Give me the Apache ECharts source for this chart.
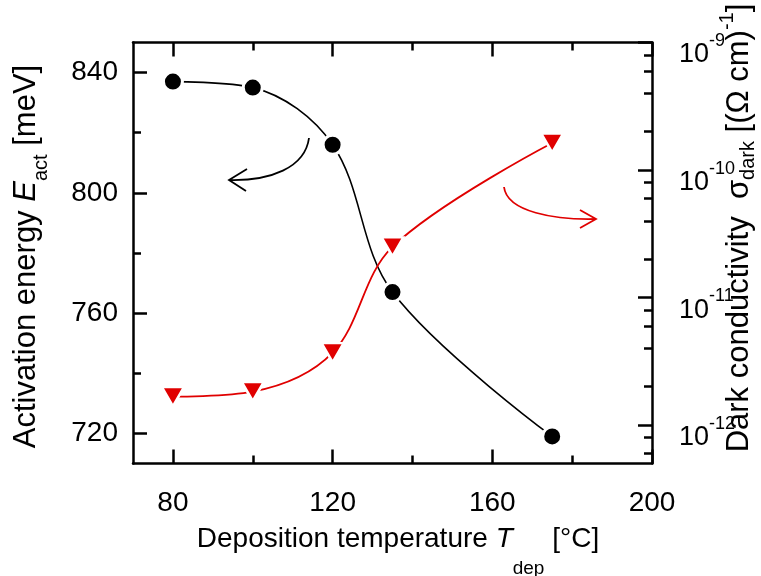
<!DOCTYPE html>
<html><head><meta charset="utf-8">
<script src="https://cdn.jsdelivr.net/npm/echarts@6/dist/echarts.min.js"></script>
<style>html,body{margin:0;padding:0;background:#fff}#c{width:761px;height:576px}</style>
</head><body><div id="c"></div>
<script>
// ---- data ----
const temperatures = [80, 100, 120, 135, 175];
const activationEnergy = [837, 835, 816, 767, 719];
const darkConductivity = [1.67e-12, 1.83e-12, 3.7e-12, 2.5e-11, 1.63e-10];
// ---- ticks ----
const xMajorTicks = [80, 120, 160, 200];
const xMinorTicks = [100, 140, 180];
const yLeftMajorTicks = [720, 760, 800, 840];
const yLeftMinorTicks = [740, 780, 820];
const yRightMajorTicks = [1e-12, 1e-11, 1e-10, 1e-9];
const yRightMinorTicks = [6e-13, 8e-13, 2e-12, 4e-12, 6e-12, 8e-12, 2e-11, 4e-11, 6e-11, 8e-11, 2e-10, 4e-10, 6e-10, 8e-10];

const FONT = 'Liberation Sans';
const RED = '#e00000';
const AX = { color: '#000', width: 2.5 };

function xAxisDef(pos, ticks, len, showLine, labels) {
  return {
    type: 'value', position: pos, min: 70, max: 200, gridIndex: 0,
    splitLine: { show: false },
    axisLine: { show: showLine, onZero: false, lineStyle: AX },
    axisTick: { show: true, inside: true, length: len, customValues: ticks, lineStyle: AX },
    axisLabel: labels ? { show: true, customValues: ticks, fontSize: 28, fontFamily: FONT, color: '#000', margin: 26 } : { show: false }
  };
}
function yLeftDef(ticks, len, showLine, labels) {
  return {
    type: 'value', position: 'left', min: 710, max: 850,
    splitLine: { show: false },
    axisLine: { show: showLine, onZero: false, lineStyle: AX },
    axisTick: { show: true, inside: true, length: len, customValues: ticks, lineStyle: AX },
    axisLabel: labels ? { show: true, customValues: ticks, fontSize: 28, fontFamily: FONT, color: '#000', margin: 15 } : { show: false }
  };
}
function yRightDef(ticks, len, showLine, labels) {
  return {
    type: 'log', logBase: 10, position: 'right', min: 5e-13, max: 1.0005e-9,
    splitLine: { show: false },
    axisLine: { show: showLine, onZero: false, lineStyle: AX },
    axisTick: { show: true, inside: true, length: len, customValues: ticks, lineStyle: AX },
    axisLabel: labels ? {
      show: true, customValues: ticks, margin: 27, padding: [15.5, 0, 0, 0],
      formatter: v => '{b|10}{s|' + Math.round(Math.log10(v)) + '}',
      rich: {
        b: { fontSize: 27, fontFamily: FONT, color: '#000', padding: [9.5, 0, 0, 0], verticalAlign: 'top' },
        s: { fontSize: 18, fontFamily: FONT, color: '#000', verticalAlign: 'top' }
      }
    } : { show: false }
  };
}

const chart = echarts.init(document.getElementById('c'), null, { renderer: 'canvas' });

const titleRichY = (main, sub) => ({
  m: { fontSize: main, fontFamily: FONT, color: '#000', verticalAlign: 'top' },
  i: { fontSize: main, fontFamily: FONT, fontStyle: 'italic', color: '#000', verticalAlign: 'top' },
  s: { fontSize: sub, fontFamily: FONT, color: '#000', verticalAlign: 'top', padding: [20.5, 0, 0, 0] }
});

chart.setOption({
  animation: false,
  backgroundColor: '#fff',
  grid: { left: 133, right: 109, top: 42.5, bottom: 112.5, containLabel: false, outerBoundsMode: 'none' },
  xAxis: [
    xAxisDef('bottom', xMajorTicks, 14, true, true),
    xAxisDef('bottom', xMinorTicks, 8, false, false),
    xAxisDef('top', xMajorTicks, 14, true, false),
    xAxisDef('top', xMinorTicks, 8, false, false)
  ],
  yAxis: [
    yLeftDef(yLeftMajorTicks, 14, true, true),
    yLeftDef(yLeftMinorTicks, 8, false, false),
    yRightDef(yRightMajorTicks, 14, true, true),
    yRightDef(yRightMinorTicks, 8, false, false)
  ],
  series: [
    {
      type: 'line', xAxisIndex: 0, yAxisIndex: 0, silent: true,
      data: temperatures.map((t, i) => [t, activationEnergy[i]]),
      smooth: 0.35, symbol: 'circle', symbolSize: 19,
      itemStyle: { color: '#000', borderColor: '#fff', borderWidth: 3 },
      lineStyle: { color: '#000', width: 1.6 }, z: 3
    },
    {
      type: 'line', xAxisIndex: 0, yAxisIndex: 2, silent: true,
      data: temperatures.map((t, i) => [t, darkConductivity[i]]),
      smooth: 0.35, symbol: 'triangle', symbolRotate: 180, symbolSize: [22, 19],
      itemStyle: { color: RED, borderColor: '#fff', borderWidth: 2.5 },
      lineStyle: { color: RED, width: 1.8 }, z: 4
    }
  ],
  graphic: [
    { type: 'bezierCurve', silent: true,
      shape: { x1: 309, y1: 138, cpx1: 305, cpy1: 168, cpx2: 270, cpy2: 181, x2: 229, y2: 180 },
      style: { stroke: '#000', lineWidth: 1.8, fill: null } },
    { type: 'polyline', silent: true,
      shape: { points: [[247, 169], [229, 180], [246, 191]] },
      style: { stroke: '#000', lineWidth: 1.8, fill: null } },
    { type: 'bezierCurve', silent: true,
      shape: { x1: 504, y1: 187, cpx1: 507, cpy1: 212, cpx2: 555, cpy2: 220, x2: 596, y2: 219 },
      style: { stroke: RED, lineWidth: 1.8, fill: null } },
    { type: 'polyline', silent: true,
      shape: { points: [[580, 210], [596, 219], [580, 228]] },
      style: { stroke: RED, lineWidth: 1.8, fill: null } },
    // x title
    { type: 'text', silent: true, x: 398, y: 552,
      style: {
        text: '{m|Deposition temperature }{i|T}{s|dep}{m| [°C]}',
        align: 'center', verticalAlign: 'middle', textAlign: 'center', textVerticalAlign: 'middle',
        rich: {
          m: { fontSize: 28, fontFamily: FONT, color: '#000', verticalAlign: 'top' },
          i: { fontSize: 28, fontFamily: FONT, fontStyle: 'italic', color: '#000', verticalAlign: 'top' },
          s: { fontSize: 19, fontFamily: FONT, color: '#000', verticalAlign: 'top', padding: [34.5, 0, 0, 0] }
        }
      } },
    // left title
    { type: 'text', silent: true, x: 30.75, y: 256.5, rotation: Math.PI / 2,
      style: {
        text: '{m|Activation energy }{i|E}{s|act}{m| [meV]}',
        align: 'center', verticalAlign: 'middle', textAlign: 'center', textVerticalAlign: 'middle',
        rich: titleRichY(31, 20)
      } },
    // right title
    { type: 'text', silent: true, x: 737.5, y: 228, rotation: Math.PI / 2,
      style: {
        text: '{m|Dark conductivity  σ}{s|dark}{m| [(Ω cm)}{p|-1}{m|]}',
        align: 'center', verticalAlign: 'middle', textAlign: 'center', textVerticalAlign: 'middle',
        rich: {
          m: { fontSize: 31, fontFamily: FONT, color: '#000', verticalAlign: 'top', padding: [6.5, 0, 0, 0] },
          s: { fontSize: 20, fontFamily: FONT, color: '#000', verticalAlign: 'top', padding: [21, 0, 0, 0] },
          p: { fontSize: 20, fontFamily: FONT, color: '#000', verticalAlign: 'top' }
        }
      } }
  ]
});
</script>
</body></html>
